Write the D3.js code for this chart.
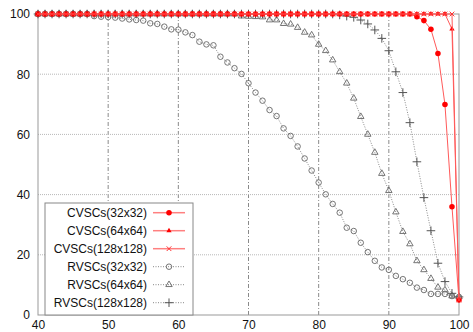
<!DOCTYPE html>
<html>
<head>
<meta charset="utf-8">
<script src="https://cdn.jsdelivr.net/npm/d3@7"></script>
<style>
  body { margin: 0; background: #fff; }
  text { font-family: "Liberation Sans", Arial, sans-serif; }
</style>
</head>
<body>
<svg id="chart"></svg>
<script>
// x positions (same for every series)
var xs = [40,41,42,43,44,45,46,47,48,49,50,51,52,53,54,55,56,57,58,59,60,
  61,62,63,64,65,66,67,68,69,70,71,72,73,74,75,76,77,78,79,80,
  81,82,83,84,85,86,87,88,89,90,91,92,93,94,95,96,97,98,99,100];

var xTicks = [40, 50, 60, 70, 80, 90, 100];
var yTicks = [0, 20, 40, 60, 80, 100];

// CVSCs
var cv32 = [100,100,100,100,100,100,100,100,100,100,100,100,100,100,100,100,100,100,100,100,100,
  100,100,100,100,100,100,100,100,100,100,100,100,100,100,100,100,100,100,100,100,
  100,100,100,100,100,100,100,100,100,100,100,100,100,99.1,97.8,94.9,86.9,69.9,36,5];
var cv64 = [100,100,100,100,100,100,100,100,100,100,100,100,100,100,100,100,100,100,100,100,100,
  100,100,100,100,100,100,100,100,100,100,100,100,100,100,100,100,100,100,100,100,
  100,100,100,100,100,100,100,100,100,100,100,100,100,100,100,100,100,100,95,5];
var cv128 = [100,100,100,100,100,100,100,100,100,100,100,100,100,100,100,100,100,100,100,100,100,
  100,100,100,100,100,100,100,100,100,100,100,100,100,100,100,100,100,100,100,100,
  100,100,100,100,100,100,100,100,100,100,100,100,100,100,100,100,100,100,100,5];

// RVSCs
var rv32 = [100,100,100,100,100,100,100,100,99.3,99.1,99,98.8,98.5,98.2,98,97.8,96.9,96.7,95.8,94.9,94.8,
  93.9,93,90.8,89.9,89.6,85.8,83.9,82,80.1,77,73.9,71.2,68.1,66.1,62,59.5,56,52,48,44,
  40.1,36.9,34,29,27.9,24,20.9,18,15.8,15,13,11.9,10.7,9.1,8.3,7,7,7,6.3,6];
var rv64 = [100,100,100,100,100,100,100,100,100,100,100,100,100,100,100,100,100,100,100,100,100,
  100,100,100,100,100,100,100,100,99.3,99.2,99.1,99,98,98,96.8,96.6,95.5,93.9,93,89.9,
  87.8,84.7,80.8,77,72,65.9,60,54,47,41.3,34.2,27.7,23.6,18,15,12.1,9.2,8.3,6.3,6];
var rv128 = [100,100,100,100,100,100,100,100,100,100,100,100,100,100,100,100,100,100,100,100,100,
  100,100,100,100,100,100,100,100,100,100,100,100,100,100,100,100,100,100,100,100,
  100,100,99.7,99.3,98.9,98,96.7,94.7,91.9,87.8,80.8,73.9,63.9,50.9,39,28,17.2,11.1,7.2,6];

var series = [
  { name: "CVSCs(32x32)", values: cv32, kind: "cv", symbol: d3.symbolCircle, size: 24 },
  { name: "CVSCs(64x64)", values: cv64, kind: "cv", symbol: d3.symbolTriangle, size: 12 },
  { name: "CVSCs(128x128)", values: cv128, kind: "cv", symbol: d3.symbolX, size: 16 },
  { name: "RVSCs(32x32)", values: rv32, kind: "rv", symbol: d3.symbolCircle, size: 24 },
  { name: "RVSCs(64x64)", values: rv64, kind: "rv", symbol: d3.symbolTriangle, size: 18 },
  { name: "RVSCs(128x128)", values: rv128, kind: "rv", symbol: d3.symbolPlus, size: 26 }
];

var width = 473, height = 332;
var margin = { top: 14, right: 14, bottom: 17, left: 38 };

var svg = d3.select("#chart").attr("width", width).attr("height", height);

var x = d3.scaleLinear().domain([40, 100]).range([margin.left, width - margin.right]);
var y = d3.scaleLinear().domain([0, 100]).range([height - margin.bottom, margin.top]);

// grid
svg.append("g")
  .selectAll("line")
  .data(xTicks.slice(1, -1))
  .enter()
  .append("line")
  .attr("x1", (d) => x(d)).attr("x2", (d) => x(d))
  .attr("y1", y(0)).attr("y2", y(100))
  .attr("stroke", "#8a8a8a")
  .attr("stroke-dasharray", "4,2,1,2");

svg.append("g")
  .selectAll("line")
  .data(yTicks.slice(1, -1))
  .enter()
  .append("line")
  .attr("x1", x(40)).attr("x2", x(100))
  .attr("y1", (d) => y(d)).attr("y2", (d) => y(d))
  .attr("stroke", "#b8b8b8")
  .attr("stroke-dasharray", "1,1");

// frame
svg.append("rect")
  .attr("x", x(40)).attr("y", y(100))
  .attr("width", x(100) - x(40)).attr("height", y(0) - y(100))
  .attr("fill", "none")
  .attr("stroke", "#999");

// axes
var xAxis = svg.append("g")
  .attr("transform", "translate(0," + y(0) + ")")
  .call(d3.axisBottom(x).tickValues(xTicks).tickSize(0).tickPadding(5));
var yAxis = svg.append("g")
  .attr("transform", "translate(" + x(40) + ",0)")
  .call(d3.axisLeft(y).tickValues(yTicks).tickSize(0).tickPadding(8));
[xAxis, yAxis].forEach(function (a) {
  a.select(".domain").remove();
  a.selectAll("text").attr("font-size", 12).attr("fill", "#111")
    .attr("font-family", "'Liberation Sans', Arial, sans-serif");
});

function styleMarker(sel, s) {
  if (s.kind === "cv") {
    if (s.symbol === d3.symbolX) {
      sel.attr("fill", "none").attr("stroke", "#f33").attr("stroke-width", 1);
    } else {
      sel.attr("fill", "#f00").attr("stroke", "none");
    }
  } else {
    if (s.symbol === d3.symbolPlus) {
      sel.attr("fill", "none").attr("stroke", "#555").attr("stroke-width", 1);
    } else {
      sel.attr("fill", "none").attr("stroke", "#666").attr("stroke-width", 0.9);
    }
  }
}

var line = d3.line().x((d) => x(d[0])).y((d) => y(d[1]));

// gray series first, red on top
var order = [3, 4, 5, 0, 1, 2];
order.forEach(function (i) {
  var s = series[i];
  var pts = xs.map((v, j) => [v, s.values[j]]);
  var g = svg.append("g");
  g.append("path")
    .attr("d", line(pts))
    .attr("fill", "none")
    .attr("stroke", s.kind === "cv" ? "#ff5a5a" : "#8a8a8a")
    .attr("stroke-width", 1)
    .attr("stroke-dasharray", s.kind === "cv" ? null : "1,1.5");
  var m = g.selectAll("path.m")
    .data(pts)
    .enter()
    .append("path")
    .attr("class", "m")
    .attr("transform", (d) => "translate(" + x(d[0]) + "," + y(d[1]) + ")")
    .attr("d", d3.symbol().type(s.symbol).size(s.size));
  styleMarker(m, s);
});

// legend
var leg = svg.append("g");
leg.append("rect")
  .attr("x", 45).attr("y", 203)
  .attr("width", 148).attr("height", y(0) - 203)
  .attr("fill", "#fff")
  .attr("stroke", "#888");

series.forEach(function (s, i) {
  var ry = 212.7 + i * 18;
  leg.append("text")
    .attr("x", 147).attr("y", ry)
    .attr("dy", "0.35em")
    .attr("text-anchor", "end")
    .attr("font-size", 12)
    .attr("fill", "#111")
    .text(s.name);
  leg.append("line")
    .attr("x1", 153).attr("x2", 185)
    .attr("y1", ry).attr("y2", ry)
    .attr("stroke", s.kind === "cv" ? "#ff8080" : "#888")
    .attr("stroke-width", s.kind === "cv" ? 1.5 : 1)
    .attr("stroke-dasharray", s.kind === "cv" ? null : "1,1.5");
  var m = leg.append("path")
    .attr("transform", "translate(169," + ry + ")")
    .attr("d", d3.symbol().type(s.symbol).size(s.size));
  styleMarker(m, s);
});
</script>
</body>
</html>
